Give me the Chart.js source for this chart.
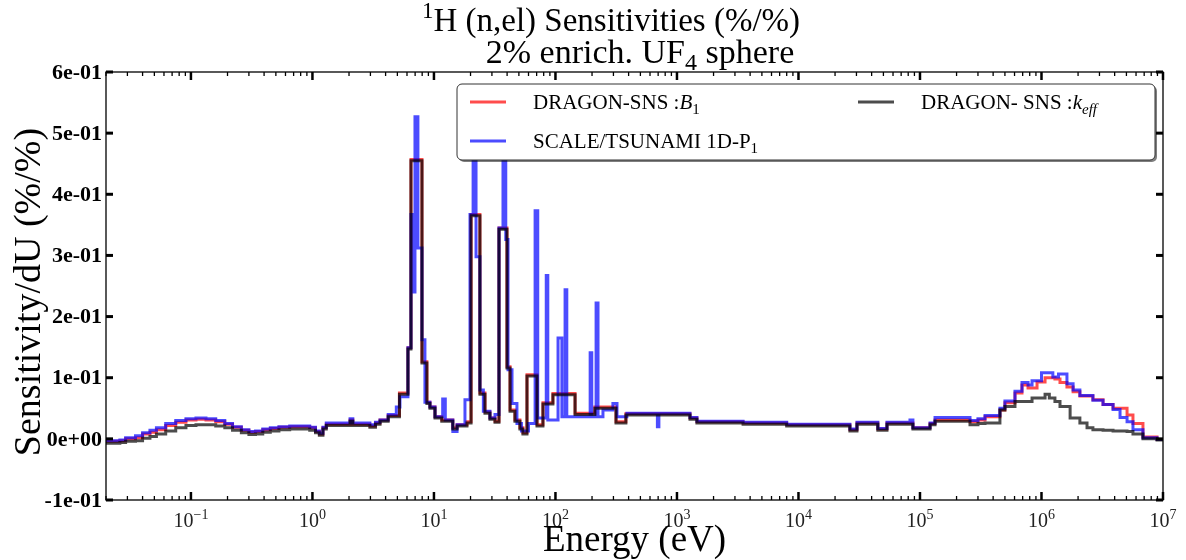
<!DOCTYPE html>
<html lang="en">
<head>
  <meta charset="UTF-8" />
  <title>1H (n,el) Sensitivities</title>
  <script src="https://cdn.jsdelivr.net/npm/chart.js"></script>
  <style>
    html, body { margin: 0; padding: 0; background: #fff; }
    #wrap { width: 1186px; height: 560px; }
  </style>
</head>
<body>
  <div id="wrap"><canvas id="chart" width="1186" height="560"></canvas></div>

  <script>
    // DRAGON group boundaries (eV), value holds until next boundary
    const dragonEnergy = [
      0.02, 0.026, 0.029, 0.035, 0.040, 0.046, 0.052, 0.062, 0.075, 0.091, 0.11, 0.133, 0.16, 0.19, 0.22, 0.26, 0.30,
      0.34, 0.39, 0.45, 0.53, 0.65, 0.80, 0.95, 1.06, 1.14, 1.22, 1.30, 2.04, 2.15, 2.97, 3.3, 3.6, 4.2,
      5.2, 6.11, 6.47, 7.97, 8.75, 9.27, 10.2, 11.6, 14.3, 15.5, 18.7, 20.2, 23.9, 26.3, 28.9, 31.8,
      34.3, 39.9, 42.3, 46.4, 51.0, 54.0, 58.3, 70.5, 78.9, 95.3, 145, 211, 315, 380,
      1280, 1460, 3500, 8000, 26500, 30300, 45000, 53500, 87500, 121000, 133000, 258000, 300000, 343000,
      455000, 500000, 605000, 691000, 775000, 836000, 919000, 1.07e6, 1.16e6, 1.29e6, 1.42e6, 1.62e6,
      1.72e6, 1.82e6, 2.07e6, 2.37e6, 2.65e6, 3.21e6, 3.88e6, 5.06e6, 5.66e6, 6.84e6, 8.93e6
    ];
    const dragonB1 = [
      -0.004, -0.003, 0.000, 0.002, 0.008, 0.011, 0.015, 0.022, 0.027, 0.031, 0.032, 0.031, 0.028, 0.024, 0.019, 0.014, 0.011,
      0.012, 0.015, 0.017, 0.019, 0.020, 0.020, 0.018, 0.012, 0.008, 0.018, 0.024, 0.031, 0.024, 0.021, 0.026, 0.031, 0.038,
      0.075, 0.149, 0.457, 0.126, 0.060, 0.052, 0.036, 0.031, 0.018, 0.023, 0.028, 0.367, 0.075, 0.044, 0.034, 0.029,
      0.345, 0.118, 0.047, 0.031, 0.018, 0.010, 0.105, 0.023, 0.059, 0.074, 0.042, 0.052, 0.028, 0.041,
      0.034, 0.028, 0.026, 0.023, 0.015, 0.026, 0.016, 0.026, 0.018, 0.025, 0.031, 0.028, 0.031, 0.036,
      0.047, 0.059, 0.075, 0.088, 0.083, 0.083, 0.093, 0.100, 0.100, 0.098, 0.092, 0.085,
      0.085, 0.077, 0.070, 0.070, 0.064, 0.056, 0.050, 0.039, 0.025, 0.003, -0.001
    ];
    const dragonKeff = [
      -0.007, -0.006, -0.004, -0.003, 0.001, 0.004, 0.008, 0.013, 0.018, 0.022, 0.023, 0.023, 0.021, 0.018, 0.014, 0.010, 0.007,
      0.008, 0.011, 0.013, 0.015, 0.016, 0.016, 0.014, 0.010, 0.006, 0.016, 0.022, 0.029, 0.022, 0.019, 0.024, 0.029, 0.036,
      0.073, 0.147, 0.455, 0.124, 0.058, 0.050, 0.034, 0.029, 0.016, 0.021, 0.026, 0.365, 0.073, 0.042, 0.032, 0.027,
      0.343, 0.116, 0.045, 0.029, 0.016, 0.008, 0.103, 0.021, 0.057, 0.072, 0.040, 0.050, 0.026, 0.039,
      0.032, 0.026, 0.024, 0.021, 0.013, 0.024, 0.014, 0.024, 0.016, 0.023, 0.029, 0.023, 0.025, 0.026,
      0.047, 0.053, 0.061, 0.061, 0.061, 0.067, 0.067, 0.073, 0.067, 0.061, 0.053, 0.053,
      0.034, 0.034, 0.026, 0.018, 0.015, 0.014, 0.013, 0.012, 0.008, 0.000, -0.002
    ];

    // SCALE/TSUNAMI group boundaries (eV)
    const scaleEnergy = [
      0.02, 0.026, 0.029, 0.035, 0.040, 0.046, 0.052, 0.062, 0.075, 0.091, 0.11, 0.133, 0.16, 0.19, 0.22, 0.26, 0.30,
      0.34, 0.39, 0.45, 0.53, 0.65, 0.80, 0.95, 1.06, 1.14, 1.22, 1.30, 2.04, 2.15, 2.97, 3.3, 3.6, 4.2,
      4.9, 5.25, 6.11, 6.47, 6.85, 6.98, 7.38, 7.97, 8.43, 9.27, 10.2, 11.8, 12.4, 14.3, 15.5, 18.0,
      19.8, 21.0, 22.2, 23.9, 25.5, 28.9, 31.8, 34.3, 37.0, 39.0, 40.7, 43.9, 48.2, 52.5, 60.0, 68.0,
      71.5, 84.0, 86.5, 105, 113, 120, 124, 193, 199, 216, 224, 246, 297, 321, 387, 690, 710,
      1280, 1460, 3500, 8000, 26500, 30300, 45000, 53500, 82700, 87500, 121000, 133000, 258000, 300000,
      343000, 455000, 500000, 605000, 691000, 775000, 836000, 1.0e6, 1.24e6, 1.38e6, 1.62e6, 1.82e6,
      2.07e6, 2.65e6, 3.21e6, 3.88e6, 4.43e6, 5.06e6, 5.66e6, 6.84e6, 8.93e6
    ];
    const scaleP1 = [
      -0.003, -0.002, 0.002, 0.005, 0.010, 0.014, 0.018, 0.025, 0.030, 0.033, 0.034, 0.033, 0.030, 0.025, 0.020, 0.015, 0.012,
      0.013, 0.016, 0.018, 0.020, 0.021, 0.021, 0.019, 0.013, 0.009, 0.019, 0.026, 0.033, 0.026, 0.023, 0.027, 0.031, 0.040,
      0.052, 0.069, 0.149, 0.367, 0.240, 0.527, 0.312, 0.162, 0.060, 0.052, 0.036, 0.065, 0.031, 0.012, 0.023, 0.064,
      0.367, 0.550, 0.298, 0.080, 0.045, 0.034, 0.040, 0.345, 0.550, 0.326, 0.113, 0.058, 0.025, 0.013, 0.025, 0.373,
      0.034, 0.267, 0.031, 0.165, 0.036, 0.244, 0.036, 0.141, 0.036, 0.222, 0.036, 0.047, 0.058, 0.036, 0.042, 0.020, 0.042,
      0.035, 0.029, 0.027, 0.024, 0.016, 0.027, 0.017, 0.027, 0.031, 0.018, 0.026, 0.035, 0.030, 0.033,
      0.038, 0.050, 0.062, 0.078, 0.092, 0.088, 0.095, 0.108, 0.101, 0.106, 0.090, 0.080,
      0.071, 0.063, 0.056, 0.048, 0.035, 0.028, 0.015, 0.002, -0.001
    ];

    const yTicks = [-0.1, 0, 0.1, 0.2, 0.3, 0.4, 0.5, 0.6];
    const xDecades = [-1, 0, 1, 2, 3, 4, 5, 6, 7];
    const eMin = 0.02, eMax = 1e7;

    const SERIF = '"Liberation Serif", "DejaVu Serif", serif';
    const RED = 'rgba(255,0,0,0.7)', BLUE = 'rgba(0,0,255,0.7)', GREY = 'rgba(0,0,0,0.7)';

    // stepped points, last group held to the end of the axis
    function steps(energy, vals) {
      const pts = energy.map((e, i) => ({ x: e, y: vals[i] }));
      pts.push({ x: eMax, y: vals[vals.length - 1] });
      return pts;
    }

    function sci(v) {
      if (Math.abs(v) < 1e-12) return '0e+00';
      const e = Math.floor(Math.log10(Math.abs(v)) + 1e-9);
      const m = Math.round(v / Math.pow(10, e));
      return m + 'e' + (e < 0 ? '-' : '+') + String(Math.abs(e)).padStart(2, '0');
    }

    // text with sub/superscripts: parts = [{t, it, sub, sup, bold}]
    function partFont(p, size) {
      const s = (p.sub || p.sup) ? Math.round(size * 0.7) : size;
      return (p.it ? 'italic ' : '') + (p.bold ? 'bold ' : '') + s + 'px ' + SERIF;
    }
    function drawRich(ctx, parts, x, y, size, align) {
      let w = 0;
      parts.forEach(p => { ctx.font = partFont(p, size); p.w = ctx.measureText(p.t).width; w += p.w; });
      let cx = align === 'center' ? x - w / 2 : align === 'right' ? x - w : x;
      ctx.textAlign = 'left';
      ctx.textBaseline = 'alphabetic';
      parts.forEach(p => {
        ctx.font = partFont(p, size);
        const dy = p.sub ? size * 0.22 : p.sup ? -size * 0.4 : 0;
        ctx.fillText(p.t, cx, y + dy);
        cx += p.w;
      });
    }

    function seg(ctx, x1, y1, x2, y2) {
      ctx.beginPath(); ctx.moveTo(x1, y1); ctx.lineTo(x2, y2); ctx.stroke();
    }

    const decorPlugin = {
      id: 'decor',
      afterDraw(chart) {
        const { ctx, chartArea: a, scales: { x, y } } = chart;
        ctx.save();
        ctx.fillStyle = '#000';
        ctx.strokeStyle = '#000';

        // frame
        ctx.lineWidth = 1.3;
        ctx.strokeRect(a.left, a.top, a.right - a.left, a.bottom - a.top);

        // x ticks, inward, bottom and top
        for (let k = -2; k <= 7; k++) {
          for (let m = 1; m <= 9; m++) {
            const v = m * Math.pow(10, k);
            if (v < eMin * 0.999 || v > eMax * 1.001) continue;
            const px = x.getPixelForValue(v);
            const major = m === 1;
            ctx.lineWidth = major ? 2.5 : 1.3;
            const len = major ? 8 : 4;
            seg(ctx, px, a.bottom, px, a.bottom - len);
            seg(ctx, px, a.top, px, a.top + len);
          }
        }
        // y ticks, left and right
        ctx.lineWidth = 3;
        yTicks.forEach(t => {
          const py = y.getPixelForValue(t);
          seg(ctx, a.left, py, a.left + 7, py);
          seg(ctx, a.right, py, a.right - 7, py);
        });

        // y tick labels
        ctx.font = 'bold 22px ' + SERIF;
        ctx.textAlign = 'right';
        ctx.textBaseline = 'middle';
        yTicks.forEach(t => ctx.fillText(sci(t), a.left - 4, y.getPixelForValue(t) + 1));

        // x tick labels
        ctx.fillStyle = '#222';
        xDecades.forEach(k => {
          const px = x.getPixelForValue(Math.pow(10, k));
          const exp = k < 0 ? '\u2212' + (-k) : String(k);
          drawRich(ctx, [{ t: '10' }, { t: exp, sup: true }], px, a.bottom + 27, 20, 'center');
        });
        ctx.fillStyle = '#000';

        // axis titles
        ctx.font = '37px ' + SERIF;
        ctx.textAlign = 'center';
        ctx.textBaseline = 'alphabetic';
        ctx.fillText('Energy (eV)', (a.left + a.right) / 2, 551);
        ctx.save();
        ctx.translate(40, (a.top + a.bottom) / 2 + 6);
        ctx.rotate(-Math.PI / 2);
        ctx.font = '38px ' + SERIF;
        ctx.fillText('Sensitivity/dU (%/%)', 0, 0);
        ctx.restore();

        // title
        drawRich(ctx, [{ t: '1', sup: true }, { t: 'H (n,el) Sensitivities (%/%)' }], 611, 31, 33, 'center');
        drawRich(ctx, [{ t: '2% enrich. UF' }, { t: '4', sub: true }, { t: ' sphere' }], 640, 63, 34, 'center');

        // legend box
        const lx = 457, ly = 84, lw = 698, lh = 76;
        ctx.fillStyle = 'rgba(0,0,0,0.5)';
        ctx.beginPath(); ctx.roundRect(lx + 2, ly + 2, lw, lh, 5); ctx.fill();
        ctx.fillStyle = '#fff';
        ctx.beginPath(); ctx.roundRect(lx, ly, lw, lh, 5); ctx.fill();
        ctx.lineWidth = 1;
        ctx.strokeStyle = '#333';
        ctx.stroke();

        const items = [
          { c: RED, x: 470, y: 102, parts: [{ t: 'DRAGON-SNS :' }, { t: 'B', it: true }, { t: '1', sub: true }] },
          { c: BLUE, x: 470, y: 141, parts: [{ t: 'SCALE/TSUNAMI 1D-P' }, { t: '1', sub: true }] },
          { c: GREY, x: 858, y: 102, parts: [{ t: 'DRAGON- SNS :' }, { t: 'k', it: true }, { t: 'eff', it: true, sub: true }] }
        ];
        items.forEach(it => {
          ctx.strokeStyle = it.c;
          ctx.lineWidth = 3;
          seg(ctx, it.x, it.y, it.x + 36, it.y);
          ctx.fillStyle = '#000';
          drawRich(ctx, it.parts, it.x + 63, it.y + 7, 21, 'left');
        });

        ctx.restore();
      }
    };

    const lineStyle = { borderWidth: 3, stepped: true, fill: false, pointRadius: 0 };

    new Chart(document.getElementById('chart'), {
      type: 'line',
      data: {
        datasets: [
          { label: 'DRAGON-SNS :B1', data: steps(dragonEnergy, dragonB1), borderColor: RED, order: 2, ...lineStyle },
          { label: 'SCALE/TSUNAMI 1D-P1', data: steps(scaleEnergy, scaleP1), borderColor: BLUE, order: 1, ...lineStyle },
          { label: 'DRAGON- SNS :keff', data: steps(dragonEnergy, dragonKeff), borderColor: GREY, order: 0, ...lineStyle }
        ]
      },
      options: {
        responsive: false,
        animation: false,
        devicePixelRatio: 1,
        layout: { padding: { left: 106, top: 72, right: 23, bottom: 60 } },
        plugins: {
          legend: { display: false },
          title: { display: false },
          tooltip: { enabled: false }
        },
        scales: {
          x: { type: 'logarithmic', min: eMin, max: eMax, display: false },
          y: { type: 'linear', min: -0.1, max: 0.6, display: false }
        }
      },
      plugins: [decorPlugin]
    });
  </script>
</body>
</html>
